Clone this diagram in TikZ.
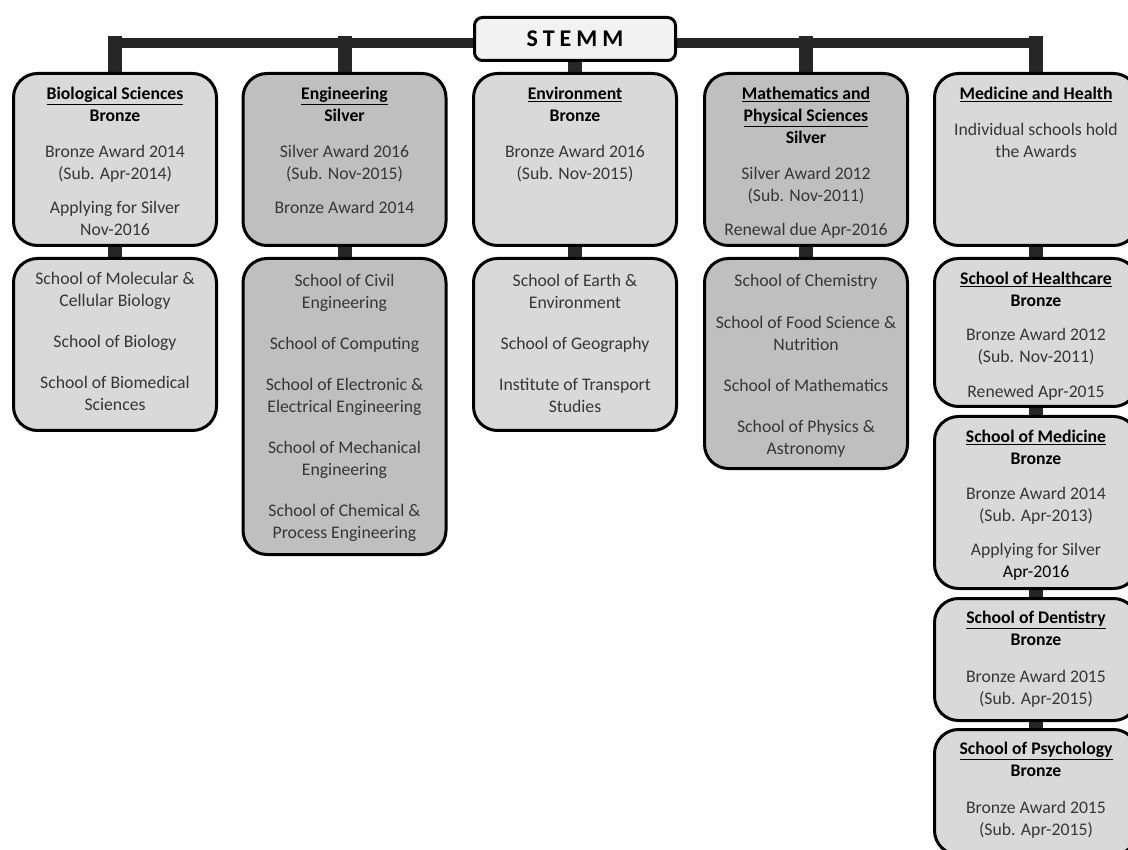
\documentclass[tikz,border=0pt]{standalone}
\usepackage{fontspec}
\setmainfont{Carlito}
\usetikzlibrary{positioning,backgrounds}
\definecolor{Bar}{HTML}{262626}
\definecolor{Light}{HTML}{D9D9D9}
\definecolor{Dark}{HTML}{BFBFBF}
\definecolor{Pale}{HTML}{F2F2F2}
\definecolor{Body}{HTML}{363636}
\newcommand{\ttl}[1]{\textcolor{black}{\textbf{\underline{#1}}}}
\newcommand{\awd}[1]{\textcolor{black}{\textbf{#1}}}

\begin{document}
\begin{tikzpicture}[x=1pt,y=-1pt,
 box/.style={draw=black,line width=3pt,rounded corners=24pt,minimum width=203pt,inner sep=0pt},
 lite/.style={box,fill=Light},
 silv/.style={box,fill=Dark},
 txt/.style={align=center,inner sep=0pt,text=Body,font=\fontsize{17.7}{22}\selectfont},
 stem/.style={line width=14pt,draw=Bar,line cap=rect},
 bus/.style={line width=10pt,draw=Bar,line cap=rect}]
 \useasboundingbox (0,0) rectangle (1128,850);
 \coordinate (bus) at (0,43);
 % top
 \node[draw=black,line width=3pt,rounded corners=8pt,fill=Pale,minimum width=201pt,minimum height=43pt,
   font=\fontsize{24}{26}\selectfont\bfseries\addfontfeature{LetterSpace=21}] (stemm) at (575,39) {STEMM};
 % faculties
 \node[lite,minimum height=172pt] (bio) at (115,159.5) {};
 \node[silv,minimum height=172pt] (eng) at (344.5,159.5) {};
 \node[lite,minimum height=172pt] (env) at (575,159.5) {};
 \node[silv,minimum height=172pt] (math) at (806,159.5) {};
 \node[lite,minimum height=172pt] (med) at (1036,159.5) {};
 % schools
 \node[lite,minimum height=172pt] (bioS) at (115,344.5) {};
 \node[silv,minimum height=296pt] (engS) at (344.5,406.5) {};
 \node[lite,minimum height=172pt] (envS) at (575,344.5) {};
 \node[silv,minimum height=210pt] (mathS) at (806,363.5) {};
 \node[lite,minimum height=148pt] (hc) at (1036,332.5) {};
 \node[lite,minimum height=172pt] (mdc) at (1036,502.5) {};
 \node[lite,minimum height=122pt] (dent) at (1036,659.5) {};
 \node[lite,minimum height=125pt] (psy) at (1036,792) {};
 % texts
 \node[txt,below=15pt of bio.north] (bioT) {\ttl{Biological Sciences}\\\awd{Bronze}\\[14pt]
   Bronze Award 2014\\(Sub. Apr-2014)\\[12pt]Applying for Silver\\Nov-2016};
 \node[txt,below=15pt of eng.north] (engT) {\ttl{Engineering}\\\awd{Silver}\\[14pt]
   Silver Award 2016\\(Sub. Nov-2015)\\[12pt]Bronze Award 2014};
 \node[txt,below=15pt of env.north] (envT) {\ttl{Environment}\\\awd{Bronze}\\[14pt]
   Bronze Award 2016\\(Sub. Nov-2015)};
 \node[txt,below=15pt of math.north] (mathT) {\ttl{Mathematics and}\\\ttl{Physical Sciences}\\\awd{Silver}\\[14pt]
   Silver Award 2012\\(Sub. Nov-2011)\\[12pt]Renewal due Apr-2016};
 \node[txt,below=15pt of med.north] (medT) {\ttl{Medicine and Health}\\[14pt]
   Individual schools hold\\the Awards};
 \node[txt,below=15pt of bioS.north] (bioST) {School of Molecular \&\\Cellular Biology\\[19pt]
   School of Biology\\[19pt]School of Biomedical\\Sciences};
 \node[txt,below=17pt of engS.north] (engST) {School of Civil\\Engineering\\[19pt]School of Computing\\[19pt]
   School of Electronic \&\\Electrical Engineering\\[19pt]School of Mechanical\\Engineering\\[19pt]
   School of Chemical \&\\Process Engineering};
 \node[txt,below=17pt of envS.north] (envST) {School of Earth \&\\Environment\\[19pt]
   School of Geography\\[19pt]Institute of Transport\\Studies};
 \node[txt,below=17pt of mathS.north] (mathST) {School of Chemistry\\[20pt]School of Food Science \&\\Nutrition\\[19pt]
   School of Mathematics\\[19pt]School of Physics \&\\Astronomy};
 \node[txt,below=15pt of hc.north] (hcT) {\ttl{School of Healthcare}\\\awd{Bronze}\\[12pt]
   Bronze Award 2012\\(Sub. Nov-2011)\\[13pt]Renewed Apr-2015};
 \node[txt,below=15pt of mdc.north] (mdcT) {\ttl{School of Medicine}\\\awd{Bronze}\\[13pt]
   Bronze Award 2014\\(Sub. Apr-2013)\\[12pt]Applying for Silver\\\textcolor{black}{Apr-2016}};
 \node[txt,below=14pt of dent.north] (dentT) {\ttl{School of Dentistry}\\\awd{Bronze}\\[15pt]
   Bronze Award 2015\\(Sub. Apr-2015)};
 \node[txt,below=14pt of psy.north] (psyT) {\ttl{School of Psychology}\\\awd{Bronze}\\[15pt]
   Bronze Award 2015\\(Sub. Apr-2015)};
 % connectors
 \begin{scope}[on background layer]
  \draw[bus] (bio.north |- bus) -- (med.north |- bus);
  \draw[stem] (bio.north) -- (bio.north |- bus); \draw[stem] (eng.north) -- (eng.north |- bus);
  \draw[stem] (math.north) -- (math.north |- bus); \draw[stem] (med.north) -- (med.north |- bus);
  \draw[stem] (stemm.south) -- (env.north);
  \draw[stem] (bio.south) -- (bioS.north); \draw[stem] (eng.south) -- (engS.north);
  \draw[stem] (env.south) -- (envS.north); \draw[stem] (math.south) -- (mathS.north);
  \draw[stem] (med.south) -- (hc.north); \draw[stem] (hc.south) -- (mdc.north);
  \draw[stem] (mdc.south) -- (dent.north); \draw[stem] (dent.south) -- (psy.north);
 \end{scope}
\end{tikzpicture}
\end{document}
